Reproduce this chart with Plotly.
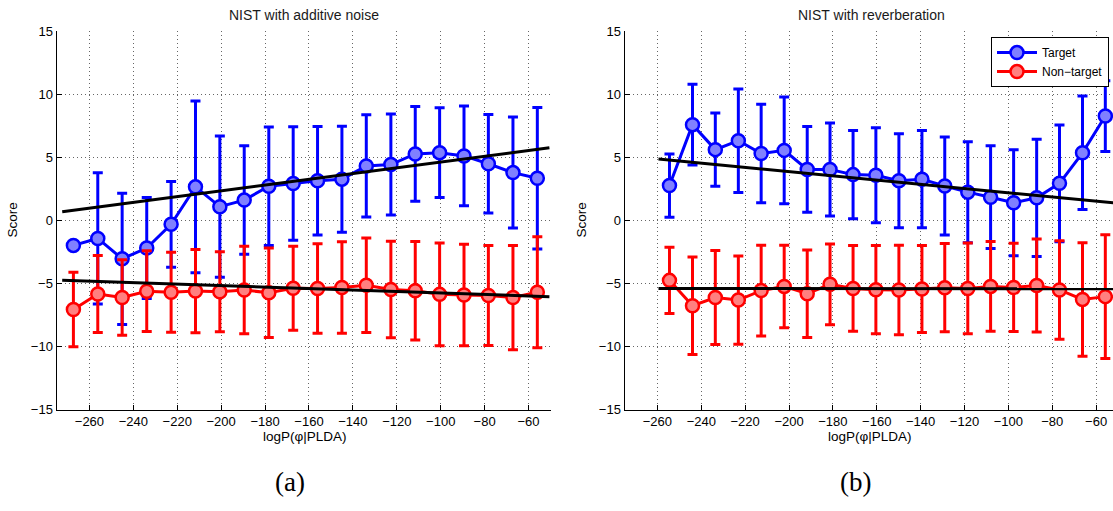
import plotly.graph_objects as go

# ---------------- data ----------------
x_a = [-267.3, -256.2, -245.1, -233.9, -222.8, -211.7, -200.6, -189.5, -178.3, -167.2,
       -156.1, -145.0, -133.9, -122.7, -111.6, -100.5, -89.4, -78.3, -67.1, -56.0]
tgt_a = [-1.97, -1.42, -3.03, -2.18, -0.30, 2.67, 1.10, 1.62, 2.72, 2.94,
         3.15, 3.28, 4.33, 4.44, 5.28, 5.38, 5.12, 4.50, 3.80, 3.35]
tgt_a_err = [0.0, 5.2, 5.2, 4.0, 3.4, 6.8, 5.6, 4.3, 4.7, 4.5,
             4.3, 4.2, 4.05, 4.0, 3.75, 3.55, 3.95, 3.9, 4.4, 5.6]
ntg_a = [-7.05, -5.82, -6.10, -5.60, -5.69, -5.59, -5.64, -5.51, -5.72, -5.36,
         -5.38, -5.31, -5.13, -5.46, -5.56, -5.85, -5.90, -5.94, -6.10, -5.69]
ntg_a_err = [2.95, 3.05, 3.0, 3.2, 3.17, 3.3, 3.17, 3.47, 3.54, 3.33,
             3.55, 3.62, 3.75, 3.82, 3.9, 4.07, 4.03, 3.97, 4.13, 4.4]
fit_a_x = [-272.4, -50.5]
fit_a_tgt = [0.69, 5.77]
fit_a_ntg = [-4.74, -6.03]

x_b = [-254.5, -244.0, -233.6, -223.1, -212.7, -202.2, -191.7, -181.3, -170.8, -160.4,
       -149.9, -139.4, -129.0, -118.5, -108.1, -97.6, -87.1, -76.7, -66.2, -55.8]
tgt_b = [2.77, 7.60, 5.62, 6.33, 5.31, 5.56, 4.05, 4.05, 3.64, 3.59,
         3.15, 3.28, 2.74, 2.25, 1.85, 1.41, 1.80, 2.95, 5.37, 8.28]
tgt_b_err = [2.5, 3.2, 2.9, 4.1, 3.9, 4.23, 3.4, 3.68, 3.5, 3.77,
             3.73, 3.85, 3.88, 4.0, 4.07, 4.2, 4.65, 4.63, 4.5, 2.8]
ntg_b = [-4.74, -6.75, -6.10, -6.30, -5.55, -5.22, -5.80, -5.05, -5.38, -5.48,
         -5.50, -5.42, -5.32, -5.38, -5.22, -5.30, -5.15, -5.50, -6.25, -6.03]
ntg_b_err = [2.63, 3.87, 3.73, 3.5, 3.6, 3.27, 3.46, 3.2, 3.4, 3.5,
             3.55, 3.45, 3.5, 3.6, 3.56, 3.5, 3.68, 3.9, 4.5, 4.9]
fit_b_x = [-259.5, -50.0]
fit_b_tgt = [4.87, 1.37]
fit_b_ntg = [-5.38, -5.40]

x_ticks = [-260, -240, -220, -200, -180, -160, -140, -120, -100, -80, -60]
y_ticks = [-15, -10, -5, 0, 5, 10, 15]
titles = ["NIST with additive noise", "NIST with reverberation"]
captions = ["(a)", "(b)"]

# ---------------- figure ----------------
W, H = 1113, 511
FONT = "Liberation Sans, Arial, Helvetica, sans-serif"
BLUE, BLUE_F = "#0000FF", "#8080FF"
RED, RED_F = "#FF0000", "#FF8080"
GRID = "rgba(0,0,0,0.6)"

fig = go.Figure()

def series(x, y, e, color, fill, name, xa, ya, show):
    fig.add_trace(go.Scatter(
        x=x, y=y, mode="lines+markers", name=name, showlegend=show,
        xaxis=xa, yaxis=ya,
        line=dict(color=color, width=3),
        marker=dict(symbol="circle", size=13, color=fill, line=dict(color=color, width=2.5)),
        error_y=dict(type="data", array=e, visible=True, color=color, thickness=3, width=5),
    ))

def fit(x, y, xa, ya):
    fig.add_trace(go.Scatter(x=x, y=y, mode="lines", showlegend=False, xaxis=xa, yaxis=ya,
                             line=dict(color="black", width=3), hoverinfo="skip"))

series(x_a, tgt_a, tgt_a_err, BLUE, BLUE_F, "Target", "x", "y", False)
series(x_a, ntg_a, ntg_a_err, RED, RED_F, "Non\u2212target", "x", "y", False)
fit(fit_a_x, fit_a_tgt, "x", "y")
fit(fit_a_x, fit_a_ntg, "x", "y")

series(x_b, tgt_b, tgt_b_err, BLUE, BLUE_F, "Target", "x2", "y2", True)
series(x_b, ntg_b, ntg_b_err, RED, RED_F, "Non\u2212target", "x2", "y2", True)
fit(fit_b_x, fit_b_tgt, "x2", "y2")
fit(fit_b_x, fit_b_ntg, "x2", "y2")

ydom = [1 - 415 / H, 1 - 25 / H]
common_x = dict(tickvals=x_ticks, ticks="inside", ticklen=5, tickcolor="black",
                showline=True, linecolor="black", linewidth=1, mirror=False,
                showgrid=True, gridcolor=GRID, gridwidth=1, griddash="1px,3px",
                zeroline=False, tickfont=dict(family=FONT, size=13, color="black"))
common_y = dict(range=[-15, 15], tickvals=y_ticks, ticks="inside", ticklen=5, tickcolor="black",
                showline=True, linecolor="black", linewidth=1, mirror=False,
                showgrid=True, gridcolor=GRID, gridwidth=1, griddash="1px,3px",
                zeroline=False, tickfont=dict(family=FONT, size=13, color="black"))

fig.update_layout(
    width=W, height=H, margin=dict(l=0, r=0, t=0, b=0),
    paper_bgcolor="white", plot_bgcolor="white",
    font=dict(family=FONT, size=13, color="black"),
    xaxis=dict(domain=[56.5 / W, 550.5 / W], range=[-275, -50], anchor="y", **common_x),
    yaxis=dict(domain=ydom, anchor="x", **common_y),
    xaxis2=dict(domain=[624.5 / W, 1.0], range=[-275, -52.3], anchor="y2", **common_x),
    yaxis2=dict(domain=ydom, anchor="x2", **common_y),
    legend=dict(x=1109 / W, xanchor="right", y=1 - 31 / H, yanchor="top",
                bgcolor="white", bordercolor="black", borderwidth=1,
                font=dict(family=FONT, size=12, color="black"),
                tracegroupgap=0, itemwidth=40),
    showlegend=True,
)

ann = []
# titles
for cx, t in zip([304, 871], titles):
    ann.append(dict(text=t, x=cx / W, y=1 - 8 / H, xref="paper", yref="paper",
                    xanchor="center", yanchor="middle", showarrow=False,
                    font=dict(family=FONT, size=14, color="#1a1a1a")))
# x labels
for cx in [305, 870]:
    ann.append(dict(text="logP(\u03c6|PLDA)", x=cx / W, y=1 - 443 / H, xref="paper", yref="paper",
                    xanchor="center", yanchor="middle", showarrow=False,
                    font=dict(family=FONT, size=13.5, color="black")))
# y labels
for cx in [13, 582]:
    ann.append(dict(text="Score", x=cx / W, y=1 - 220 / H, xref="paper", yref="paper",
                    xanchor="center", yanchor="middle", showarrow=False, textangle=-90,
                    font=dict(family=FONT, size=13.5, color="black")))
# captions
for cx, c in zip([290, 855], captions):
    ann.append(dict(text=c, x=cx / W, y=1 - 489 / H, xref="paper", yref="paper",
                    xanchor="center", yanchor="middle", showarrow=False,
                    font=dict(family="Liberation Serif, DejaVu Serif, serif", size=27, color="black")))
fig.update_layout(annotations=ann)

fig.write_html("out.html")
